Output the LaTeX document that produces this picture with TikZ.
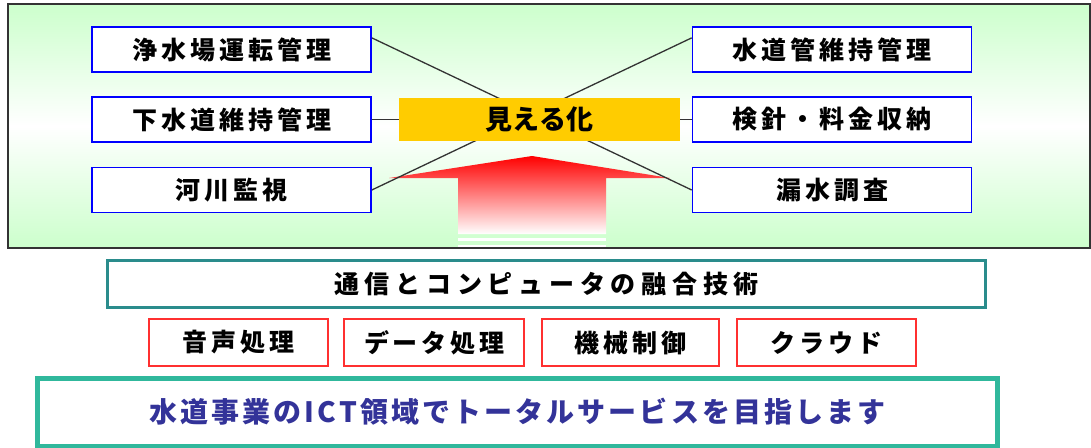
\documentclass[tikz,border=0pt]{standalone}
\usepackage{fontspec}
\usetikzlibrary{calc}
\newfontfamily\jp{Noto Sans CJK JP}
\pgfdeclarelayer{bg}
\pgfdeclarelayer{lines}
\pgfsetlayers{bg,lines,main}
\definecolor{bggreen}{HTML}{CCFFCC}
\definecolor{yel}{HTML}{FFCC00}
\definecolor{tealA}{HTML}{2A8C8C}
\definecolor{tealB}{HTML}{30B89C}
\definecolor{navy}{HTML}{333399}
\definecolor{redbox}{HTML}{FF3030}
\definecolor{frame}{HTML}{333333}
\newcommand\bxfont{\jp\bfseries\fontsize{25}{25}\selectfont\addfontfeature{LetterSpace=16}}
\newcommand\yfont{\jp\bfseries\fontsize{27}{27}\selectfont}
\newcommand\tfont{\jp\bfseries\fontsize{25}{25}\selectfont\addfontfeature{LetterSpace=23}}
\newcommand\rfont{\jp\bfseries\fontsize{25}{25}\selectfont\addfontfeature{LetterSpace=15}}
\newcommand\bfont{\jp\bfseries\fontsize{28}{28}\selectfont\addfontfeature{LetterSpace=11}}
\tikzset{
  bluebox/.style={draw=blue, line width=1.6, fill=white, minimum width=279, minimum height=45, inner sep=0, font=\bxfont},
  yelbox/.style={fill=yel, minimum width=281, minimum height=43, inner sep=0, font=\yfont},
  techbox/.style={draw=tealA, line width=3.5, fill=white, minimum width=878, minimum height=47, inner sep=0, font=\tfont},
  redbox/.style={draw=redbox, line width=1.6, fill=white, minimum height=47, inner sep=0, font=\rfont},
  goalbox/.style={draw=tealB, line width=5, fill=white, minimum width=960, minimum height=68, inner sep=0, font=\bfont, text=navy},
  link/.style={draw=frame, line width=1.3}
}
\begin{document}
\begin{tikzpicture}[x=1pt,y=-1pt]
\clip (0,0) rectangle (1091,447);
\begin{pgfonlayer}{bg}
\fill[white] (0,0) rectangle (1091,447);
\shade[top color=bggreen, bottom color=bggreen, middle color=white] (8,4) rectangle (1090,248);
\shade[top color=red, bottom color=white]
  (532,156) -- (670,178) -- (606,178) -- (606,234) -- (458,234) -- (458,178) -- (389,178) -- cycle;
\fill[white] (458,238) rectangle (606,241);
\fill[white] (458,245) rectangle (606,247);
\draw[frame, line width=2] (8,4) rectangle (1090,248);
\end{pgfonlayer}

\node[bluebox] (L1) at (231.5,49.5) {浄水場運転管理};
\node[bluebox] (L2) at (231.5,119.5) {下水道維持管理};
\node[bluebox] (L3) at (231.5,190) {河川監視};
\node[bluebox] (R1) at (832,49.5) {水道管維持管理};
\node[bluebox] (R2) at (832,119.5) {検針・料金収納};
\node[bluebox] (R3) at (832,190) {漏水調査};
\node[yelbox] (Y) at (539.5,119.5) {見える化};

\begin{pgfonlayer}{lines}
\draw[link] ($(L1.north east)!0.25!(L1.south east)$) -- (R3.west);
\draw[link] (L3.east) -- ($(R1.north west)!0.25!(R1.south west)$);
\draw[link] (L2.east) -- (R2.west);
\end{pgfonlayer}

\node[techbox] (T) at (546.5,284) {通信とコンピュータの融合技術};
\node[redbox, minimum width=179] (S1) at (238.5,342.5) {音声処理};
\node[redbox, minimum width=180] (S2) at (434,342.5) {データ処理};
\node[redbox, minimum width=177] (S3) at (630.5,342.5) {機械制御};
\node[redbox, minimum width=179] (S4) at (826.5,342.5) {クラウド};
\node[goalbox] (G) at (517.5,412) {水道事業のICT領域でトータルサービスを目指します};
\end{tikzpicture}
\end{document}
